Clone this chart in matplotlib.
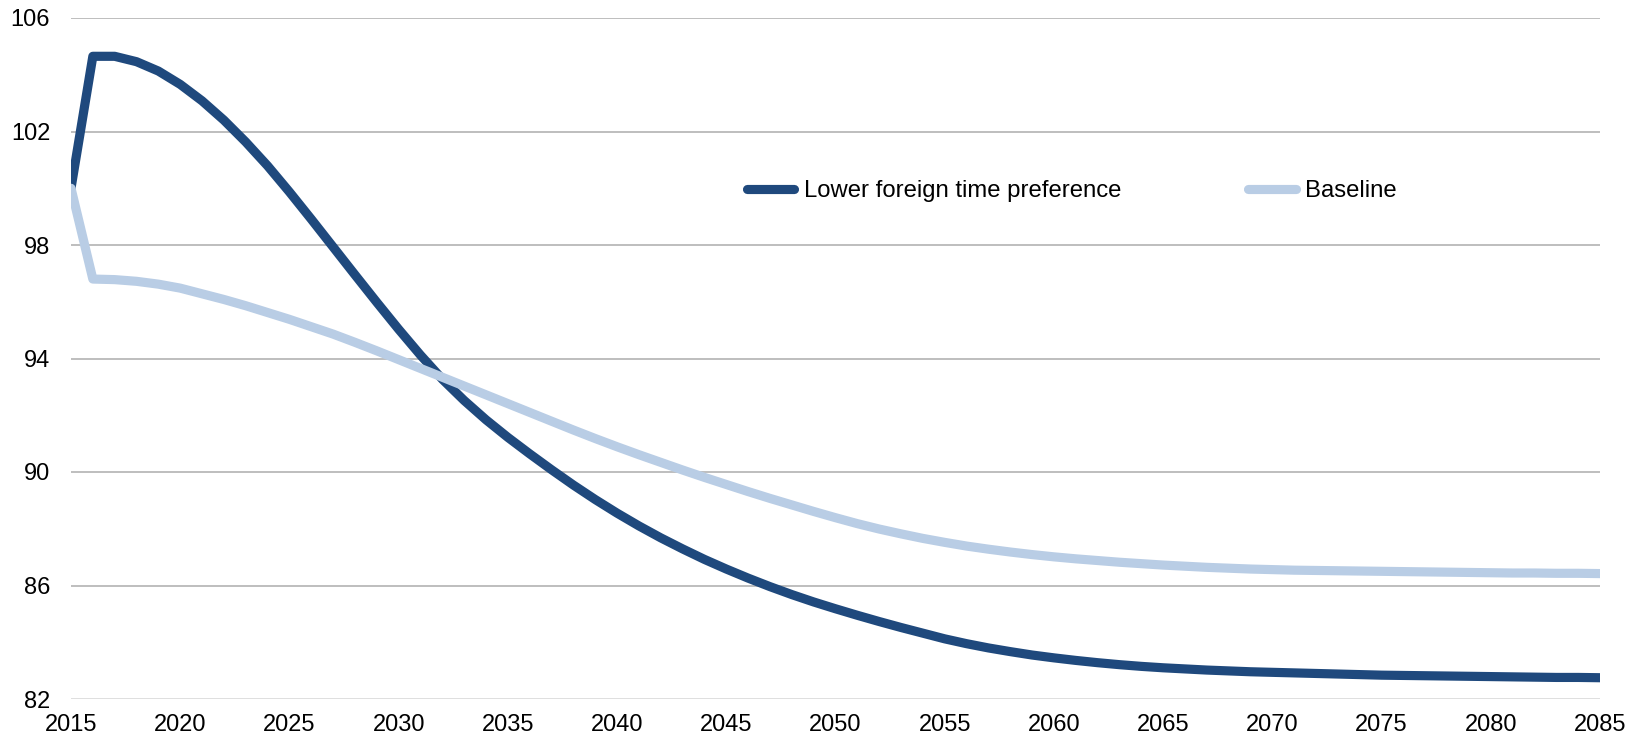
import matplotlib
matplotlib.use("Agg")
import matplotlib.pyplot as plt

plt.rcParams['font.family'] = ['Liberation Sans', 'DejaVu Sans']

years = list(range(2015, 2086))

lower_foreign_tp = [
    100.00, 104.65, 104.65, 104.46, 104.13, 103.66, 103.08, 102.40, 101.63, 100.79,
    99.87, 98.91, 97.93, 96.95, 95.98, 95.03, 94.12, 93.27, 92.52, 91.84,
    91.22, 90.64, 90.08, 89.54, 89.03, 88.55, 88.10, 87.68, 87.29, 86.92,
    86.58, 86.26, 85.96, 85.68, 85.42, 85.18, 84.95, 84.73, 84.52, 84.32,
    84.12, 83.95, 83.80, 83.67, 83.55, 83.45, 83.36, 83.28, 83.21, 83.15,
    83.10, 83.06, 83.02, 82.99, 82.96, 82.94, 82.92, 82.90, 82.88, 82.86,
    82.84, 82.83, 82.82, 82.81, 82.80, 82.79, 82.78, 82.77, 82.76, 82.76,
    82.75,
]

baseline = [
    100.00, 96.80, 96.78, 96.72, 96.62, 96.48, 96.28, 96.08, 95.86, 95.62,
    95.38, 95.12, 94.86, 94.57, 94.27, 93.96, 93.65, 93.34, 93.03, 92.72,
    92.41, 92.10, 91.79, 91.48, 91.18, 90.89, 90.61, 90.34, 90.07, 89.81,
    89.56, 89.31, 89.07, 88.84, 88.61, 88.39, 88.18, 87.99, 87.82, 87.66,
    87.52, 87.39, 87.28, 87.18, 87.09, 87.01, 86.94, 86.88, 86.82, 86.77,
    86.72, 86.68, 86.64, 86.61, 86.58, 86.56, 86.54, 86.53, 86.52, 86.51,
    86.50, 86.49, 86.48, 86.47, 86.46, 86.45, 86.44, 86.44, 86.43, 86.43,
    86.42,
]

y_ticks = [82, 86, 90, 94, 98, 102, 106]
x_ticks = list(range(2015, 2086, 5))

DARK = "#1F497D"
LIGHT = "#B9CDE5"

fig = plt.figure(figsize=(16.44, 7.41), dpi=100)
ax = fig.add_axes([71 / 1644, 1 - 699 / 741, 1529 / 1644, 681 / 741])

for y in y_ticks[1:]:
    ax.axhline(y, color="#B3B3B3", lw=1.2, zorder=1)
ax.axhline(82, color="#D9D9D9", lw=1.2, zorder=1)

ax.plot(years, lower_foreign_tp, color=DARK, lw=6.6, solid_capstyle="round",
        solid_joinstyle="round", zorder=3, label="Lower foreign time preference")
ax.plot(years, baseline, color=LIGHT, lw=6.6, solid_capstyle="round",
        solid_joinstyle="round", zorder=4, label="Baseline")

ax.set_xlim(2015, 2085)
ax.set_ylim(82, 106)
ax.set_xticks(x_ticks)
ax.set_yticks(y_ticks)
ax.tick_params(axis="both", length=0, labelsize=17, colors="black")
ax.tick_params(axis="y", pad=15)
ax.tick_params(axis="x", pad=10.5)
for s in ax.spines.values():
    s.set_visible(False)

ax.legend(loc="center left", bbox_to_anchor=((746.5 - 71) / 1529, (699 - 191) / 681),
          ncol=2, frameon=False, fontsize=17.2, handlelength=2.0, handletextpad=0.4,
          columnspacing=5.3, borderpad=0, borderaxespad=0)

fig.savefig("out.png", dpi=100)
